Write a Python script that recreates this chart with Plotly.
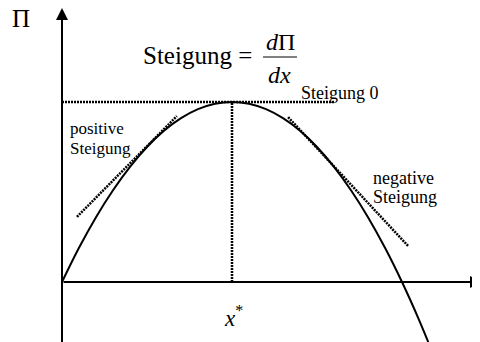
import plotly.graph_objects as go

# ---- data (units: x* = 5, max profit = 5) ----
x_vals = [0, 0.5, 1, 1.5, 2, 2.5, 3, 3.5, 4, 4.5, 5, 5.5, 6, 6.5, 7, 7.5, 8, 8.5, 9, 9.5, 10, 10.5, 11]
profit = [0, 0.95, 1.8, 2.55, 3.2, 3.75, 4.2, 4.55, 4.8, 4.95, 5.0, 4.95, 4.8, 4.55, 4.2, 3.75, 3.2, 2.55, 1.8, 0.95, 0, -1.05, -2.2]

pos_tangent_x = [0.44, 3.38]
pos_tangent_y = [1.81, 4.61]
neg_tangent_x = [6.65, 10.18]
neg_tangent_y = [4.58, 1.0]

x_star = 5
profit_max = 5
zero_slope_x = [0, 8.03]

# ---- page-pixel <-> data helpers (layout) ----
W, H = 480, 342
PAGE_OFF = 8            # default body margin of the written page
X0, UX = 62, 34.0       # page pixel of x = 0, pixels per x unit
Y0, UY = 282, 36.0      # page pixel of y = 0, pixels per y unit


def dx(px):
    return (px - X0) / UX


def dy(py):
    return (Y0 - py) / UY


FONT = "Liberation Serif"
DOT = "2px,1px"

fig = go.Figure()
fig.add_trace(go.Scatter(x=x_vals, y=profit, mode="lines", line=dict(color="black", width=2, shape="spline"),
                         hoverinfo="skip"))
fig.add_trace(go.Scatter(x=pos_tangent_x, y=pos_tangent_y, mode="lines",
                         line=dict(color="black", width=2.5, dash=DOT), hoverinfo="skip"))
fig.add_trace(go.Scatter(x=neg_tangent_x, y=neg_tangent_y, mode="lines",
                         line=dict(color="black", width=2.5, dash=DOT), hoverinfo="skip"))
fig.add_trace(go.Scatter(x=zero_slope_x, y=[profit_max, profit_max], mode="lines",
                         line=dict(color="black", width=2.5, dash=DOT), hoverinfo="skip"))
fig.add_trace(go.Scatter(x=[x_star, x_star], y=[0, profit_max], mode="lines",
                         line=dict(color="black", width=2.5, dash=DOT), hoverinfo="skip"))

annotations = []
# axes with arrows
annotations.append(dict(x=0, y=dy(8), ax=0, ay=dy(H + 10), xref="x", yref="y", axref="x", ayref="y",
                        text="", showarrow=True, arrowhead=2, arrowsize=1.2, arrowwidth=2, arrowcolor="black",
                        standoff=0, startstandoff=0))
annotations.append(dict(x=dx(482), y=0, ax=0, ay=0, xref="x", yref="y", axref="x", ayref="y",
                        text="", showarrow=True, arrowhead=2, arrowsize=1.2, arrowwidth=2, arrowcolor="black",
                        standoff=0, startstandoff=0))


def label(text, px, py, size, xanchor="center", family=FONT):
    annotations.append(dict(x=dx(px), y=dy(py), xref="x", yref="y", text=text, showarrow=False,
                            xanchor=xanchor, yanchor="middle",
                            font=dict(family=family, size=size, color="black")))


label("Π", 21, 18, 25)
label("Steigung =", 141, 55, 25, xanchor="left")
label("<i>d</i>Π", 280, 42, 24)
label("<i>dx</i>", 279, 75, 24)
label("Steigung 0", 299, 93, 18, xanchor="left")
label("positive", 68, 128, 17, xanchor="left")
label("Steigung", 68, 148, 17, xanchor="left")
label("negative", 371, 178, 18, xanchor="left")
label("Steigung", 371, 197, 18, xanchor="left")
label("<i>x</i><sup>*</sup>", 233, 316, 23)
label("<i>x</i>", 471, 319, 23, xanchor="left")

fig.update_layout(
    width=W, height=H,
    margin=dict(l=0, r=0, t=0, b=0),
    paper_bgcolor="white", plot_bgcolor="white",
    showlegend=False,
    font=dict(family=FONT),
    xaxis=dict(range=[dx(PAGE_OFF), dx(PAGE_OFF + W)], visible=False, fixedrange=True),
    yaxis=dict(range=[dy(PAGE_OFF + H), dy(PAGE_OFF)], visible=False, fixedrange=True),
    annotations=annotations,
    shapes=[dict(type="line", xref="x", yref="y", x0=dx(263), x1=dx(297), y0=dy(57), y1=dy(57),
                 line=dict(color="black", width=1))],
)

fig.write_html("out.html")
